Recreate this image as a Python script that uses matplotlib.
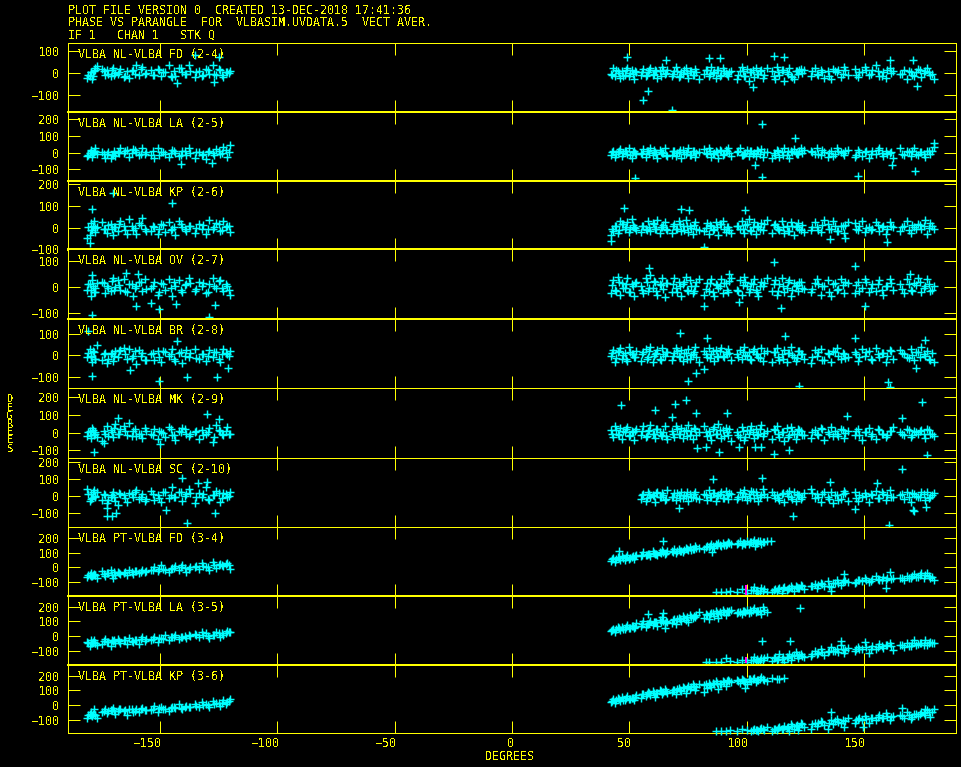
import matplotlib
matplotlib.use("Agg")
import matplotlib.pyplot as plt
from matplotlib.transforms import ScaledTranslation

W, H = 962, 767
YELLOW = "#ffff00"
CYAN = "#00ffff"
MAGENTA = "#ff00ff"

plt.rcParams["font.family"] = "DejaVu Sans Mono"
plt.rcParams["font.size"] = 8.4
plt.rcParams["text.antialiased"] = False
plt.rcParams["lines.antialiased"] = False
plt.rcParams["patch.antialiased"] = False

header = ["PLOT FILE VERSION 0  CREATED 13-DEC-2018 17:41:36",
          "PHASE VS PARANGLE  FOR  VLBASIM.UVDATA.5  VECT AVER.",
          "IF 1   CHAN 1   STK Q"]
names = ["VLBA NL-VLBA FD (2-4)", "VLBA NL-VLBA LA (2-5)", "VLBA NL-VLBA KP (2-6)",
         "VLBA NL-VLBA OV (2-7)", "VLBA NL-VLBA BR (2-8)", "VLBA NL-VLBA MK (2-9)",
         "VLBA NL-VLBA SC (2-10)", "VLBA PT-VLBA FD (3-4)", "VLBA PT-VLBA LA (3-5)",
         "VLBA PT-VLBA KP (3-6)"]
xticks = [-150, -100, -50, 0, 50, 100, 150]

# shared parallactic angles of the scans
left_x = [-181, -180, -179.5, -179, -178, -177.5, -177,
          -174.5, -173.5, -172.5, -171, -170, -169, -168, -167,
          -165.5, -164, -163, -161.5, -160, -159, -157.5, -156.5,
          -154, -152.5, -151, -149.5, -148, -146, -145, -143.5, -142, -140.5, -139, -137.5,
          -135, -133.5, -132, -130.5, -129, -127.5, -126, -124.5, -123, -121.5, -120]
right_x = [42, 43, 44, 45, 46, 47, 48, 49, 50, 51, 52, 53,
           55, 56, 57, 58, 59, 60, 61, 62, 63, 64, 65, 66,
           68, 69, 70, 71, 72, 73, 74, 75, 76, 77, 78, 79.5,
           82, 83, 84, 85, 86, 87, 88, 89, 90, 91, 92, 93.5,
           96, 97, 98, 99, 100, 101, 102, 103, 104, 105, 106, 107, 108.5,
           111, 112, 113, 114, 115, 116, 117, 118, 119, 120, 121, 122, 123, 124.5,
           127.5, 129, 130, 131.5, 133, 134.5, 136, 137, 138.5, 140, 141.5, 143,
           146, 147.5, 149, 150.5, 152, 153.5, 155, 156.5, 158, 159.5, 161, 162.5,
           165.5, 167, 168.5, 170, 171.5, 173, 174.5, 176, 177, 178, 180]
low_x = [87, 89, 91, 93,
         96, 98, 100, 102, 103, 104, 105, 106, 107, 108.5,
         111, 112, 113, 114, 115, 116, 117, 118, 119, 120, 121, 122, 123, 124.5,
         127.5, 129, 130, 131.5, 133, 134.5, 136, 137, 138.5, 140, 141.5, 143,
         146, 147.5, 149, 150.5, 152, 153.5, 155, 156.5, 158, 159.5, 161, 162.5,
         165.5, 167, 168.5, 170, 171.5, 173, 174.5, 176, 177, 178, 180]
# second set of samples inside the same scans, they make up the dense core
left2_x = [-180.5, -179.2, -178.5, -177.8,
           -174, -172, -170.5, -169.5, -167.5,
           -165, -162, -160.5, -158, -156,
           -153, -150.5, -148.5, -145.5, -144, -141, -139.5, -137,
           -134.5, -131.5, -129.5, -127, -125, -123.5, -122, -120.5]
right2_x = [42.5, 44.5, 45.5, 47.5, 48.5, 50.5, 51.5, 52.5,
            55.5, 57.5, 58.5, 60.5, 61.5, 63.5, 64.5, 65.5,
            68.5, 70.5, 71.5, 73.5, 74.5, 76.5, 77.5, 78.5,
            82.5, 84.5, 85.5, 87.5, 88.5, 90.5, 91.5, 92.5,
            96.5, 98.5, 99.5, 101.5, 102.5, 104.5, 105.5, 107.5,
            111.5, 113.5, 115.5, 117.5, 119.5, 121.5, 122.5, 123.5,
            128, 130.5, 132, 135, 137.5, 139, 141, 142,
            146.5, 148, 151, 153, 156, 157.5, 160, 161.5,
            166, 169, 170.5, 172, 174, 175.5, 177.5, 179]

fd_left = [-25,-12,5,-28,10,22,33, 18,-8,12,-15,25,2,-5,18, -20,8,-25,15,35,-10,30,-3,
           12,-8,18,-15,5,35,-18,-12,25,5,-5,38,-20, 8,-15,20,-5,35,-8,12,-18,5,10]
fd_right = [-5,22,-15,8,-25,10,-8,25,-12,15,-30,5,
            -10,18,-15,5,25,-8,12,-22,10,28,-5,15,
            -12,8,30,-18,5,-5,22,-25,10,-10,20,-28,
            -5,15,-15,28,5,-22,12,-8,25,0,-12,10,
            -28,8,30,-12,18,-35,5,-20,25,-5,12,-25,22,
            8,-30,28,-10,15,-35,5,22,-12,-28,10,-5,18,15,
            -15,25,-5,12,-25,8,-30,20,5,-18,28,-8,
            18,-20,5,30,-8,15,35,-12,5,-25,25,10,
            -5,12,-28,5,-15,18,-20,8,25,-8,-30]
fd2_left = [-8,5,-15,12, 8,-5,15,-10,5, -12,10,-5,18,2, -8,15,5,-12,10,25,-5,8, 3,-10,12,-3,18,-8,5,-2]
fd2_right = [-8,12,2,-12,15,0,-6,10,
             5,-10,14,-3,8,-15,12,0,
             -5,10,-12,15,0,8,-10,3,
             12,-6,2,15,-12,8,-3,6,
             -8,10,-15,3,16,-5,8,-10,
             -12,5,15,-3,-18,8,12,2,
             10,-10,3,-16,8,15,-5,12,
             -10,5,14,-3,8,-15,12,2,
             -5,10,-8,3,12,-2,6,-3]
fd_out_x = [49, 58, 56, 68.3, 111.6, 116, 88.8, 84, 65.5, 171, 161, 102.5, 172.4, -135, -125, -142.6, -127]
fd_out_y = [73, -84, -127, -172, 80, 74, 70, 68, 62, 62, 60, -64, -58, 84, 73, -47, -40]

la_left = [-20,-5,15,-25,5,25,-10, 5,-30,-8,-35,-15,-20,5,25, -5,15,-25,20,5,-15,25,-10,
           -15,-30,30,5,-10,-25,18,-5,-20,10,-15,25, -30,5,-12,-40,10,-5,20,-10,35,-28,45]
la_right = [-15,10,-25,5,20,-18,12,-8,25,-30,8,-10,
            -5,20,-25,10,30,-12,5,-35,15,-5,25,-20,
            -15,12,-22,5,-30,18,-8,25,-15,10,-25,5,
            20,-10,30,-25,-5,12,-30,8,-15,18,25,-20,
            5,28,-12,-8,15,-20,8,-5,-18,10,20,-28,5,
            -30,-12,15,-25,5,28,-15,-30,10,20,0,-8,25,18,
            12,-10,30,-15,5,-28,8,-18,30,5,-12,15,
            -25,15,-18,5,-30,10,-8,28,-22,12,-5,-35,
            30,-12,8,-20,25,-15,5,-25,10,-10,35]
la2_left = [-12,8,-5,10, -10,2,-15,8,0, 10,-5,15,-8,3, 12,-12,5,-3,8,-15,10,-2, 6,-8,3,-12,10,0,15,5]
la2_right = [2,-10,12,-5,8,-14,5,0,
             -8,12,-3,15,-10,6,0,-12,
             10,-5,15,-8,2,-14,8,0,
             -3,12,-10,5,14,-6,10,-2,
             8,-12,0,12,-6,15,-10,3,
             -5,10,-14,8,2,-10,12,-3,
             6,-8,14,0,-10,8,-4,12,
             -12,5,10,-6,14,-2,-10,6,
             -8,4,12,-6,2,-10,8,12]
la_out_x = [106.5, 52.5, 106.6, 147.4, 171.8, 103.7, 161.8, 120.6, 180, -141, -128]
la_out_y = [170, -152, -144, -138, -108, -76, -76, 86, 56, -68, -62]

kp_left = [-50,-35,20,-10,30,-20,5, 25,-8,-25,15,-35,5,-15,30, 10,-30,40,-12,-30,20,45,-8,
           -15,5,-30,15,-20,25,-5,-35,30,5,-15,10, -25,15,-8,-30,35,-5,20,-15,30,10,-20]
kp_right = [-35,-15,10,-25,30,15,-5,25,-20,40,5,-10,
            -20,10,-8,30,-15,20,-5,35,-25,5,25,-10,
            -25,15,-5,30,-15,8,35,-20,10,-30,25,-10,
            -15,20,-30,10,-5,25,-35,15,30,-20,5,-25,
            10,-5,30,-25,15,40,-15,25,-30,5,20,-10,35,
            -25,15,5,-10,30,-25,10,-15,25,-35,8,20,-10,-20,
            -10,25,5,-20,35,15,-5,30,-15,10,-25,25,
            20,-10,30,-20,5,-5,25,-15,10,-30,25,5,
            -15,10,30,-25,5,15,-5,35,-30,20,-5]
kp2_left = [5,-12,10,-3, -5,12,-8,3,15, -10,6,-2,12,-14, 8,-5,14,-10,2,18,-6,10, -3,12,-8,5,15,-10,2,8]
kp2_right = [-5,10,-12,15,2,-6,12,-2,
             8,-12,5,18,-8,2,14,-4,
             10,-5,15,-12,6,0,12,-8,
             -3,12,-10,5,16,-6,3,-12,
             8,-4,14,-12,2,10,-7,15,
             12,-8,3,-15,10,5,-5,14,
             2,-10,14,-4,8,-15,6,12,
             -6,8,0,-12,14,3,-8,10,
             5,-10,12,-4,14,8,-2,6]
kp_out_x = [47.7, 99.4, 42.3, 82, 159.6, 135.5, 142, 72, 75.6, -179, -145, -180, -170]
kp_out_y = [92, 84, -61, -90, -67, -52, -50, 86, 84, 88, 113, -73, 162]

ov_left = [-10,10,-35,25,-20,-5,15, 20,-25,5,-15,35,0,25,-10, 30,-20,10,-35,5,20,-15,30,
           -5,20,-30,15,-10,30,-35,5,25,-20,10,35, -15,20,5,-25,10,35,-5,25,-15,5,-30]
ov_right = [-25,25,-10,40,-30,15,-5,35,-20,10,-35,20,
            5,-25,35,-15,45,-5,20,-30,10,35,-40,15,
            -20,35,-5,20,-35,10,40,-15,25,-25,5,30,
            -30,15,-15,30,-35,10,-5,30,-25,15,-20,35,
            -10,25,-30,40,5,-20,15,30,-10,-35,20,5,35,
            -15,25,-30,10,35,-20,-5,25,-35,15,5,-15,20,-8,
            -20,15,30,-30,5,25,-35,10,-10,30,-25,15,
            -25,20,-5,30,-20,10,-15,25,-30,5,30,-10,
            10,-25,30,-10,15,35,-20,5,30,-15,5]
ov2_left = [10,-12,5,-20, 15,-5,22,-10,8, -15,12,-3,18,-8, 5,-18,12,-2,20,-10,6,15, -8,14,-18,5,22,-3,10,-12]
ov2_right = [8,-15,20,-5,12,-20,5,15,
             -10,18,-2,22,-15,6,-8,14,
             12,-18,5,20,-10,2,-14,18,
             -6,15,-20,8,2,16,-12,22,
             -14,6,18,-8,12,-20,4,15,
             10,-15,2,18,-12,8,20,-5,
             -8,12,2,-18,16,-6,8,20,
             6,-14,18,-2,12,-10,4,15,
             -8,12,-15,6,18,-4,10,-12]
ov_out_x = [111.5, 146.3, 58.5, 114.7, 82, 150.4, 92.6, 96.6, 169.6, -178.8, -129, -150.4, -160, -143.3, -126.5, -153.8, -164.6, -159.4, -179]
ov_out_y = [95, 81, 73, -82, -72, -73, 50, -56, 50, -106, -115, -85, -73, -66, -70, -63, 55, 51, 46]

br_left = [-10,30,-5,-30,15,-15,50, -20,10,-35,5,-25,20,-10,25, 35,-15,30,-5,-40,25,10,-20,
           5,-20,20,-30,15,-5,30,-25,10,-35,25,-10, 30,-15,5,-25,25,-10,15,-30,30,5,20]
br_right = [-5,25,-30,15,35,-15,10,-25,40,5,-10,20,
            -25,15,30,-10,40,-30,5,25,-15,35,-5,15,
            -20,10,35,-5,25,-25,10,30,-15,5,40,-30,
            20,-10,35,5,-25,25,-10,35,-5,15,30,-20,
            5,25,-15,40,-5,15,-20,30,5,-10,35,-25,20,
            -30,15,35,-20,5,25,-30,10,40,-10,-25,20,5,-15,
            -35,25,-5,30,-20,10,-30,20,35,-15,5,-10,
            15,-25,30,-5,20,-20,35,-10,10,-30,25,-15,
            25,5,-10,30,-20,15,40,-5,20,-20,-30]
br2_left = [12,-8,18,-15, 5,-18,12,-5,18, 8,-12,20,-4,-20, 12,-8,22,5,-15,15,-5,10, -12,8,-5,15,-18,8,12,-3]
br2_right = [10,-12,20,0,-18,15,5,-8,
             8,-15,18,-4,12,-20,6,15,
             -5,20,-10,12,-18,2,16,-8,
             5,-14,18,-2,22,-10,8,12,
             -8,16,2,-15,22,8,-12,12,
             15,-6,-18,10,2,-14,18,5,
             -10,14,-20,6,15,-5,10,-12,
             4,-8,14,-18,8,12,-4,18,
             10,-12,2,16,-8,5,-15,12]
br_out_x = [71.7, 146.3, 116.5, 122.4, 160.2, 161.3, 74.8, 78.5, 82, 172, 176, 83, -180.6, -179, -150.4, -138.6, -125.8, -142.9, -162.8, -121]
br_out_y = [102, 80, 90, -144, -124, -146, -120, -84, -64, -60, 71, 79, 111, -98, -120, -101, -100, 65, -70, -60]

mk_left = [-20,10,-30,25,-15,5,-25, -45,-10,35,15,-25,50,-5,20, 35,-15,55,10,-20,-5,-30,25,
           -10,20,-35,5,-25,30,-15,-40,10,25,-5,-20, 5,-35,15,-10,25,-50,45,10,-15,30,-5]
mk_right = [15,-25,40,-10,25,-35,5,30,-20,10,-40,20,
            -15,35,-25,10,45,-5,-30,20,5,-20,35,-35,
            10,-25,40,-5,25,-30,15,45,-15,-35,20,5,
            35,-20,10,-40,30,-5,50,-30,15,25,-15,-45,
            5,-25,30,-40,15,-10,35,-30,20,-5,45,-20,10,
            -35,15,35,-25,5,-45,25,-15,30,-5,-35,20,10,-12,
            -30,15,-10,25,-40,5,30,-20,-5,20,-30,10,
            -15,20,-40,5,25,-10,-35,15,-5,-25,10,30,
            5,-15,20,-25,10,-5,15,-30,20,-10,-20]
mk2_left = [2,-15,15,-8, 12,-18,5,25,-10, 10,-20,18,-5,8, -15,12,-2,20,-12,5,18,-8, 10,-14,3,-22,15,-6,12,-10]
mk2_right = [-5,15,-12,8,20,-15,2,12,
             8,-18,15,-6,22,-12,4,-20,
             -10,18,-5,12,-20,8,25,-12,
             5,-15,22,-8,14,-18,6,18,
             -12,10,-22,15,2,-16,22,-4,
             18,-10,5,-22,12,-8,16,-15,
             2,-15,18,-10,8,-20,14,-2,
             10,-14,4,-18,20,-5,-12,12,
             -6,14,-12,3,8,-10,15,-5]
mk_out_x = [46.3, 69.3, 74.1, 61, 68.3, 78.5, 91.6, 174.8, 166, 111.8, 118.2, 88.2, 176.8, 78.8, 82.6, 96.6, 103.4, 106.2, 142.9, -178, -173.8, -130, -125, -150, -168]
mk_out_y = [155, 162, 183, 126, 90, 109, 109, 172, 81, -119, -100, -109, -128, -86, -81, -80, -80, -80, 93, -109, -60, 106, 76, -64, 81]

sc_left = [40,-30,10,-15,35,0,25, -25,5,-45,-10,20,-30,-55,10, 5,-35,15,-10,35,-20,10,-30,
           30,-25,5,-35,20,-15,50,-5,25,-30,10,40, -40,15,-5,50,-25,5,30,-35,15,-10,25]
# no data before the first scan at about 55 degrees on this baseline
sc_right = [-20,10,-30,20,-10,5,-35,25,-5,15,-25,35,
            -10,15,-25,5,20,-15,0,-30,10,-5,25,-20,
            10,-25,35,-10,15,-30,5,25,-15,30,-20,10,
            -20,25,-5,35,-25,10,30,-15,20,-30,5,40,-10,
            20,-15,5,-25,10,-35,15,30,-10,25,-30,5,-20,15,
            40,-15,10,-35,20,-5,25,-40,5,-20,30,-30,
            20,-30,-10,15,-35,5,30,-15,10,-25,35,-5,
            5,-20,25,-35,10,-10,25,-25,20,-5,15]
sc2_left = [10,-18,22,-5, 12,-25,5,-10,18, -12,8,22,-5,-18, 12,-15,25,2,-10,20,-4,15, -8,12,-20,5,18,-12,8,-3]
sc2_right = [5,-15,12,-3,18,-10,2,-18,
             -6,15,-12,6,20,-8,12,-15,
             4,-10,18,-4,12,-16,6,15,
             -8,14,-2,-15,22,6,-10,10,
             5,-12,18,-4,-18,12,3,-8,
             15,-6,12,-18,6,-22,10,14,
             -12,6,-4,10,-15,20,2,-8,
             8,-10,14,0,-6,12,-12,4]
sc_out_x = [85.5, 106.5, 166.2, 160.8, 119.9, 171.4, 170.7, 146.3, 71.3, 176.5, 155.5, 135.6, -138.6, -140.7, -130, -133.8, -172.7, -170.3, -168.6, -126.5, -147.5, -172.7]
sc_out_y = [99, 108, 156, -174, -120, -88, -84, -78, -72, -66, 78, 81, -160, 105, 81, 74, -118, -118, -100, -102, -86, -75]

pt_fd_left = [-65,-50,-40,-60,-48,-55,-70, -25,-60,-40,-15,-70,-50,-30,-45, -35,-55,-20,-45,-25,-40,-15,-30,
              -20,5,-25,15,-15,-30,-5,10,-20,15,-30,-10, 0,-10,30,5,-15,40,-5,25,10,30,-10]
pt_fd_up = [45,62,38,70,52,78,48,85,58,72,55,88,
            80,105,85,95,78,110,92,88,105,120,95,112,
            110,125,100,130,115,105,135,120,140,128,150,135,
            130,150,142,165,135,160,172,150,168,158,175,165,
            165,180,158,172,185,165,178,192,170,182,162,175,185]
pt_fd_low = [-168,-172,-170,-165,
             -170,-150,-175,-155,-135,-160,-178,-145,-165,-170,
             -170,-150,-160,-145,-175,-135,-155,-140,-130,-160,-125,-145,-120,-150,
             -130,-115,-145,-105,-125,-95,-135,-110,-90,-120,-85,-100,
             -110,-85,-95,-70,-100,-80,-60,-90,-65,-85,-30,-70,
             -70,-85,-60,-75,-45,-65,-35,-55,-40,-75,-84]
pt_fd2_left = [-55,-58,-50,-52, -45,-40,-50,-30,-35, -30,-32,-25,-28,-25, -15,-10,-12,-8,-5,2,-3,5, 8,12,5,15,20,18,25,20]
pt_fd2_up = [55,60,66,62,70,68,76,80,
             85,88,90,98,96,100,104,102,
             108,115,112,120,124,122,130,135,
             140,145,148,152,158,155,162,168,
             168,172,165,178,175,170,180,176]
pt_fd2_low = [-155,-160,-165,-150,
              -155,-150,-145,-150,-140,-135,-140,-130,
              -125,-120,-115,-125,-105,-110,-100,-95,
              -100,-90,-85,-95,-80,-85,-72,-78,
              -70,-75,-62,-68,-55,-72,-60,-65]
pt_fd_out_x = [64.2, 45.7, 85.4, 103.4, 141.6, 159.5, 135.9, 110.5]
pt_fd_out_y = [184, 116, 109, 150, -48, -143, -163, 180]

pt_la_left = [-40,-65,-30,-50,-25,-45,-60, -55,-20,-40,-70,-35,-50,-20,-45, -30,-55,-15,-40,-25,-55,-10,-35,
              -25,-5,-40,-15,10,-30,-10,5,-20,-5,-15,10, 15,-5,30,20,-15,5,25,-10,10,35,25]
pt_la_up = [35,50,28,58,40,62,45,75,55,68,52,90,
            70,100,62,85,105,75,95,68,110,130,88,98,
            90,115,85,125,100,135,110,95,145,120,130,160,
            125,145,115,155,135,170,120,150,175,140,160,180,
            155,165,150,170,180,155,165,190,160,170,150,195,165]
pt_la_low = [-178,-176,-150,-172,
             -175,-160,-178,-165,-145,-170,-175,-150,-160,-140,
             -170,-140,-165,-125,-155,-175,-140,-120,-160,-130,-110,-150,-125,-140,
             -135,-100,-120,-85,-130,-110,-75,-105,-90,-60,-115,-80,
             -100,-75,-90,-40,-115,-70,-85,-55,-80,-60,-45,-95,
             -60,-75,-45,-65,-30,-55,-50,-25,-60,-40,-50]
pt_la2_left = [-45,-50,-42,-48, -35,-40,-30,-28,-32, -28,-35,-25,-22,-20, -18,-15,-20,-10,-8,-5,-2,0, 5,8,2,10,18,22,20,28]
pt_la2_up = [42,46,52,50,58,55,65,62,
             80,85,88,92,96,94,100,105,
             112,118,115,125,130,128,135,145,
             150,152,158,155,162,165,168,172,
             165,170,162,175,178,172,168,174]
pt_la2_low = [-165,-158,-160,-152,
              -150,-155,-142,-148,-135,-130,-128,-138,
              -125,-115,-110,-105,-100,-110,-88,-95,
              -90,-85,-78,-88,-72,-70,-62,-68,
              -60,-65,-50,-58,-45,-60,-50,-48]
pt_la_out_x = [122.6, 106.5, 118.6, 140.3, 58, 64.5, 65.2, 82.7, 84]
pt_la_out_y = [193, -36, -36, -32, 148, 159, 52, -177, -177]

pt_kp_left = [-85,-60,-45,-75,-30,-70,-90, -45,-30,-55,-35,-20,-60,-40,-25, -40,-70,-25,-50,-30,-45,-20,-35,
              -35,-5,-50,-15,-25,-40,-10,-20,5,-25,-5,-10, 10,-15,20,5,-10,30,15,-5,35,20,40]
pt_kp_up = [22,38,15,45,28,52,35,60,40,48,32,68,
            50,78,60,88,70,95,55,85,100,72,110,82,
            90,105,78,115,95,125,85,130,110,140,100,145,
            135,115,150,125,140,160,110,145,165,130,170,155,
            170,150,180,160,140,175,165,185,155,170,190,175,160]
pt_kp_low = [-178,-176,-179,-172,
             -178,-165,-172,-175,-160,-170,-178,-155,-165,-150,
             -178,-160,-172,-150,-165,-140,-155,-175,-130,-160,-145,-170,-120,-150,
             -165,-125,-145,-110,-135,-160,-105,-130,-95,-120,-150,-90,
             -120,-95,-105,-75,-125,-85,-100,-70,-90,-55,-105,-75,
             -70,-85,-50,-95,-60,-75,-45,-65,-35,-80,-25]
pt_kp2_left = [-70,-65,-60,-68, -40,-42,-35,-38,-30, -35,-30,-38,-28,-32, -28,-22,-25,-18,-15,-20,-10,-12, -5,2,-2,5,12,15,10,25]
pt_kp2_up = [30,35,38,32,45,42,50,52,
             72,75,80,85,82,92,88,98,
             105,110,100,115,118,120,128,125,
             140,135,148,150,145,158,160,165,
             165,170,158,175,178,168,180,172]
pt_kp2_low = [-170,-172,-165,-168,
              -165,-155,-160,-150,-145,-138,-148,-132,
              -128,-122,-115,-125,-110,-118,-100,-108,
              -100,-90,-95,-85,-80,-88,-72,-78,
              -72,-65,-78,-60,-62,-55,-50,-45]
pt_kp_out_x = [111, 113, 116, 114, 99.5, 136, 166, 149.7, 82, 176]
pt_kp_out_y = [186, 180, 186, 175, 116, -48, -18, -147, 88, -30]

# magenta streaks where points pile up on the 100 degree tick
streak_panels = [7, 8]
streak_x = [99.8, 99.8]
streak_lo = [-190, -184]
streak_hi = [-122, -141]

series = [
    [(left_x, fd_left), (right_x, fd_right), (left2_x, fd2_left), (right2_x, fd2_right), (fd_out_x, fd_out_y)],
    [(left_x, la_left), (right_x, la_right), (left2_x, la2_left), (right2_x, la2_right), (la_out_x, la_out_y)],
    [(left_x, kp_left), (right_x, kp_right), (left2_x, kp2_left), (right2_x, kp2_right), (kp_out_x, kp_out_y)],
    [(left_x, ov_left), (right_x, ov_right), (left2_x, ov2_left), (right2_x, ov2_right), (ov_out_x, ov_out_y)],
    [(left_x, br_left), (right_x, br_right), (left2_x, br2_left), (right2_x, br2_right), (br_out_x, br_out_y)],
    [(left_x, mk_left), (right_x, mk_right), (left2_x, mk2_left), (right2_x, mk2_right), (mk_out_x, mk_out_y)],
    [(left_x, sc_left), (right_x[12:], sc_right), (left2_x, sc2_left), (right2_x[8:], sc2_right), (sc_out_x, sc_out_y)],
    [(left_x, pt_fd_left), (right_x[:61], pt_fd_up), (low_x, pt_fd_low), (left2_x, pt_fd2_left),
     (right2_x[:40], pt_fd2_up), (right2_x[36:], pt_fd2_low), (pt_fd_out_x, pt_fd_out_y)],
    [(left_x, pt_la_left), (right_x[:61], pt_la_up), (low_x, pt_la_low), (left2_x, pt_la2_left),
     (right2_x[:40], pt_la2_up), (right2_x[36:], pt_la2_low), (pt_la_out_x, pt_la_out_y)],
    [(left_x, pt_kp_left), (right_x[:61], pt_kp_up), (low_x, pt_kp_low), (left2_x, pt_kp2_left),
     (right2_x[:40], pt_kp2_up), (right2_x[36:], pt_kp2_low), (pt_kp_out_x, pt_kp_out_y)],
]

edges = [43.5, 112, 181, 249.5, 319, 388, 458, 527, 596, 665, 733]
bottom_lw = [2, 2, 2, 2, 1, 1, 1, 2, 2, 1]
ylims = [(-181, 137), (-170, 244), (-101, 216), (-123, 144), (-152, 169),
         (-143, 252), (-185, 224), (-197, 279), (-197, 272), (-190, 272)]
yticks = [[-100, 0, 100], [-100, 0, 100, 200], [-100, 0, 100, 200], [-100, 0, 100],
          [-100, 0, 100], [-100, 0, 100, 200], [-100, 0, 100, 200], [-100, 0, 100, 200],
          [-100, 0, 100, 200], [-100, 0, 100, 200]]
LEFT, RIGHT = 67.5, 955.5
PT = 0.72  # one pixel at 100 dpi

fig = plt.figure(figsize=(W / 100, H / 100), dpi=100, facecolor="black")

for i in range(10):
    top, bot = edges[i], edges[i + 1]
    ax = fig.add_axes([LEFT / W, 1 - bot / H, (RIGHT - LEFT) / W, (bot - top) / H], facecolor="black")
    ax.set_xlim(-189.4, 189)
    ax.set_ylim(*ylims[i])
    for side in ax.spines:
        ax.spines[side].set_color(YELLOW)
        ax.spines[side].set_linewidth(PT)
    ax.spines["bottom"].set_linewidth(bottom_lw[i] * PT)
    ax.spines["top"].set_linewidth(bottom_lw[i - 1] * PT if i else PT)
    ax.set_xticks(xticks)
    ax.set_yticks(yticks[i])
    ax.tick_params(axis="both", direction="in", length=12 * PT, width=PT, color=YELLOW,
                   labelcolor=YELLOW, top=True, right=True, labelbottom=False)
    ax.tick_params(axis="y", pad=6)
    for xs, ys in series[i]:
        n = min(len(xs), len(ys))
        ax.plot(xs[:n], ys[:n], "+", color=CYAN, ms=5.6, mew=1.05, clip_on=False, zorder=3)
    for p, sx, lo, hi in zip(streak_panels, streak_x, streak_lo, streak_hi):
        if p == i:
            ax.vlines(sx, lo, hi, color=MAGENTA, lw=1.44, zorder=3.5)
    ax.text((78 - LEFT) / (RIGHT - LEFT), 1 - 11.5 / (bot - top), names[i], color=YELLOW,
            transform=ax.transAxes, va="center", ha="left", zorder=4)
    if i == 9:
        ax.tick_params(axis="x", labelbottom=True, pad=3)
        shift = ScaledTranslation(2 / 100, 0, fig.dpi_scale_trans)
        for lab in ax.get_xticklabels():
            lab.set_ha("right")
            lab.set_transform(lab.get_transform() + shift)

for line, ypx in zip(header, [11, 23, 35]):
    fig.text(68 / W, 1 - ypx / H, line, color=YELLOW, va="center", ha="left")

fig.text(510 / W, 1 - 756 / H, "DEGREES", color=YELLOW, va="center", ha="center")
fig.text(10 / W, 1 - 424 / H, "\n".join("DEGREES"), color=YELLOW, va="center", ha="center",
         fontsize=7.5, linespacing=0.78)

fig.savefig("out.png", dpi=100, facecolor="black")
